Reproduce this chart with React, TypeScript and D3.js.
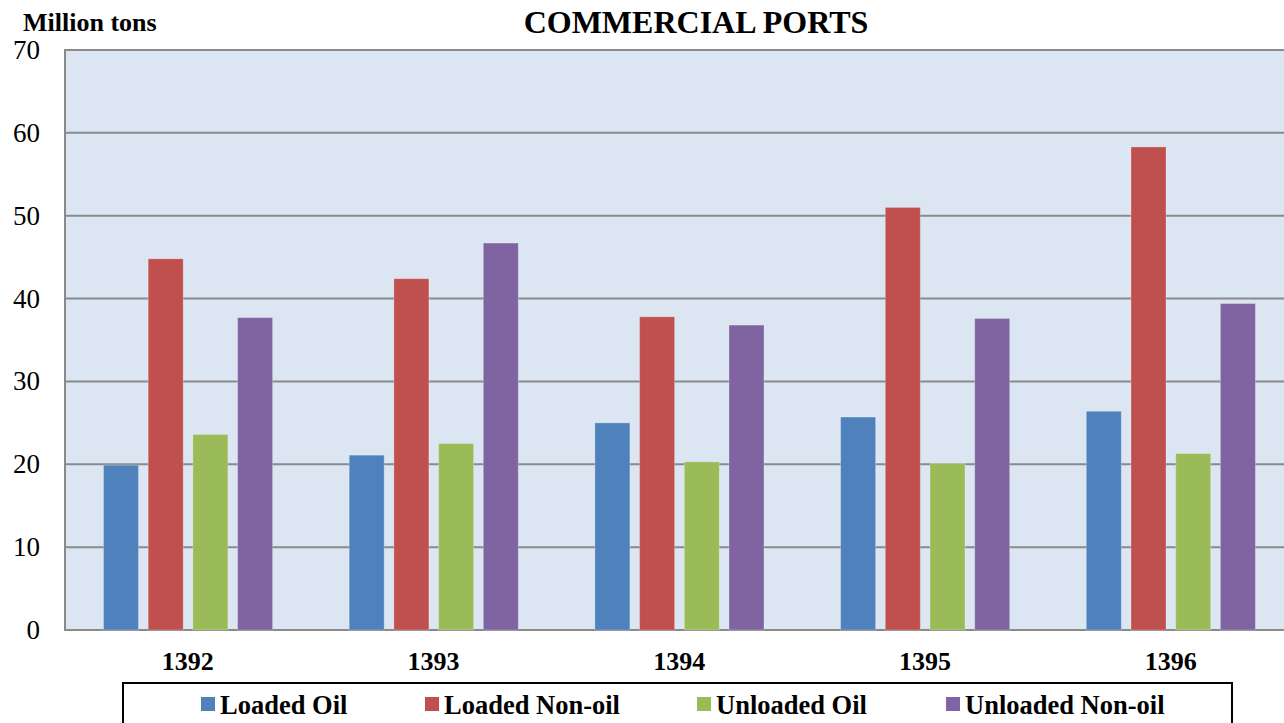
import React from "react";
import * as d3 from "d3";

const categories = ["1392", "1393", "1394", "1395", "1396"];
const seriesNames = ["Loaded Oil", "Loaded Non-oil", "Unloaded Oil", "Unloaded Non-oil"];
const loadedOil = [19.9, 21.1, 25.0, 25.7, 26.4];
const loadedNonOil = [44.8, 42.4, 37.8, 51.0, 58.3];
const unloadedOil = [23.6, 22.5, 20.3, 20.1, 21.3];
const unloadedNonOil = [37.7, 46.7, 36.8, 37.6, 39.4];
const yTicks = [0, 10, 20, 30, 40, 50, 60, 70];
const colors = ["#4F81BD", "#C0504D", "#9BBB59", "#8064A2"];

const W = 1284;
const H = 723;
const FONT = "'Liberation Serif', 'Times New Roman', serif";

export default function App() {
  const series = [loadedOil, loadedNonOil, unloadedOil, unloadedNonOil];
  const left = 65;
  const top = 50;
  const bottom = 630;
  const bandW = 245.7;
  const x0 = d3
    .scaleBand<string>()
    .domain(categories)
    .range([left, left + bandW * categories.length])
    .padding(0);
  const x1 = d3
    .scaleBand<string>()
    .domain(seriesNames)
    .range([38.5, 207.6])
    .paddingInner(0.217)
    .paddingOuter(0);
  const y = d3.scaleLinear().domain([0, 70]).range([bottom, top]);
  const legendX = [201, 425, 697, 946];

  return (
    <svg
      width={W}
      height={H}
      style={{ position: "absolute", left: 0, top: 0, background: "#fff", overflow: "hidden" }}
    >
      <rect x={left} y={top} width={W - left + 20} height={bottom - top} fill="#DCE6F2" />
      {yTicks.map((t) => (
        <line
          key={"g" + t}
          x1={left}
          x2={W + 10}
          y1={y(t)}
          y2={y(t)}
          stroke="#8A8A8A"
          strokeWidth={2}
        />
      ))}
      <line x1={left} x2={left} y1={top - 1} y2={bottom + 1} stroke="#8A8A8A" strokeWidth={2} />
      {categories.map((c, ci) => (
        <g key={c} transform={`translate(${x0(c)},0)`}>
          {seriesNames.map((s, si) => {
            const v = series[si][ci];
            return (
              <rect
                key={s}
                x={x1(s)}
                y={y(v)}
                width={x1.bandwidth()}
                height={bottom - y(v)}
                fill={colors[si]}
                stroke="rgba(255,255,255,0.25)"
                strokeWidth={1}
              />
            );
          })}
        </g>
      ))}
      {yTicks.map((t) => (
        <text
          key={"t" + t}
          x={40}
          y={y(t)}
          textAnchor="end"
          dominantBaseline="central"
          fontFamily={FONT}
          fontSize={27}
          fill="#000"
        >
          {t}
        </text>
      ))}
      {categories.map((c) => (
        <text
          key={"c" + c}
          x={(x0(c) as number) + x0.bandwidth() / 2}
          y={670}
          textAnchor="middle"
          fontFamily={FONT}
          fontWeight="bold"
          fontSize={26}
          fill="#000"
        >
          {c}
        </text>
      ))}
      <text x={23} y={31} fontFamily={FONT} fontWeight="bold" fontSize={26} fill="#000">
        Million tons
      </text>
      <text
        x={696}
        y={33}
        textAnchor="middle"
        fontFamily={FONT}
        fontWeight="bold"
        fontSize={32}
        fill="#000"
      >
        COMMERCIAL PORTS
      </text>
      <rect x={123} y={683} width={1109} height={60} fill="#fff" stroke="#000" strokeWidth={2} />
      {seriesNames.map((s, i) => (
        <g key={"l" + s}>
          <rect x={legendX[i]} y={697} width={14} height={14} fill={colors[i]} />
          <text
            x={legendX[i] + 19}
            y={714}
            fontFamily={FONT}
            fontWeight="bold"
            fontSize={26.5}
            fill="#000"
          >
            {s}
          </text>
        </g>
      ))}
    </svg>
  );
}
